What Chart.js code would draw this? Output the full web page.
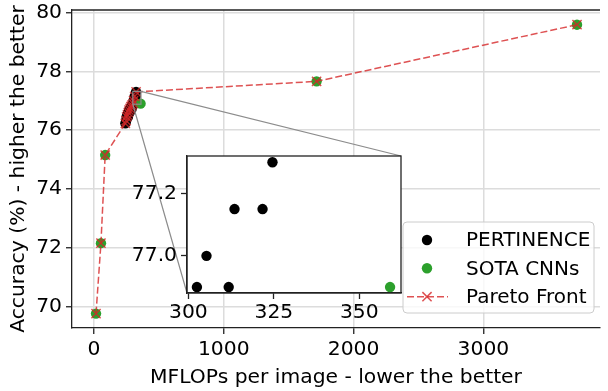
<!DOCTYPE html>
<html><head><meta charset="utf-8">
<script src="https://cdn.jsdelivr.net/npm/chart.js@4/dist/chart.umd.min.js"></script>
<style>
html,body{margin:0;padding:0;background:#fff;overflow:hidden;}
#wrap{position:relative;width:608px;height:391px;}
#main{position:absolute;left:0;top:0;}
#inset{position:absolute;left:120px;top:150px;}
</style></head><body>
<div id="wrap"><canvas id="main" width="608" height="391"></canvas><canvas id="inset" width="290" height="180"></canvas></div>
<script>
// ---- data ----
const seriesNames = ['PERTINENCE', 'SOTA CNNs', 'Pareto Front'];
const pertinenceMflops = [242, 248, 252, 258, 262, 265, 270, 275, 278, 285, 290, 292, 302.5, 305.3, 311.8, 313.5, 321.7, 324.6];
const pertinenceAcc    = [76.23, 76.32, 76.45, 76.52, 76.45, 76.60, 76.68, 76.60, 76.74, 76.80, 76.72, 76.85, 76.90, 77.0, 76.90, 77.15, 77.15, 77.30];
const sotaMflops = [16, 54, 86.5, 359, 1715, 3721];
const sotaAcc    = [69.75, 72.15, 75.15, 76.90, 77.66, 79.59];
const paretoMflops = [16, 54, 86.5, 242, 248, 252, 258, 265, 270, 278, 285, 292, 302.5, 305.3, 313.5, 324.6, 1715, 3721];
const paretoAcc    = [69.75, 72.15, 75.15, 76.23, 76.32, 76.45, 76.52, 76.60, 76.68, 76.74, 76.80, 76.85, 76.90, 77.0, 77.15, 77.30, 77.66, 79.59];
const xTicks = [0, 1000, 2000, 3000];
const yTicks = [70, 72, 74, 76, 78, 80];
const insetXTicks = [300, 325, 350];
const insetYTicks = [77.0, 77.2];
const insetXRange = [299.6, 362.2];
const insetYRange = [76.881, 77.32];
const xTitle = 'MFLOPs per image - lower the better';
const yTitle = 'Accuracy (%) - higher the better';

// ---- style ----
const FONT = {family: '"DejaVu Sans", sans-serif', size: 20.3, lineHeight: 1.0};
const BLACK = '#000000', GREEN = '#2ca02c', RED = 'rgba(214,39,40,0.8)';
const SPINE = '#222222', GRID = '#dcdcdc', CONN = '#8c8c8c';
const INSET_POS = {left: 120, top: 150};

const pts = (xs, ys) => xs.map((x, i) => ({x: x, y: ys[i]}));
const setTicks = arr => s => { s.ticks = arr.map(v => ({value: v})); };
const fixSize = (prop, val) => s => { s[prop] = val; s.paddingTop = 0; s.paddingBottom = 0; s.paddingLeft = 0; s.paddingRight = 0; };

// ---- inset chart ----
const insetPlugin = {
  id: 'insetFrame',
  beforeDraw(chart) {
    const a = chart.chartArea, c = chart.ctx;
    c.save(); c.fillStyle = '#fff'; c.fillRect(a.left, a.top, a.right - a.left, a.bottom - a.top); c.restore();
  },
  afterDraw(chart) {
    const a = chart.chartArea, c = chart.ctx;
    c.save(); c.strokeStyle = SPINE; c.lineWidth = 1.3;
    c.strokeRect(a.left, a.top, a.right - a.left, a.bottom - a.top); c.restore();
  }
};
const insetChart = new Chart(document.getElementById('inset'), {
  type: 'scatter',
  data: {datasets: [
    {label: seriesNames[1], data: pts(sotaMflops, sotaAcc), pointRadius: 5.2, pointBackgroundColor: GREEN, pointBorderWidth: 0, order: 1},
    {label: seriesNames[0], data: pts(pertinenceMflops, pertinenceAcc), pointRadius: 5.2, pointBackgroundColor: BLACK, pointBorderWidth: 0, order: 2}
  ]},
  options: {
    responsive: false, animation: false, events: [],
    layout: {padding: {top: 6, right: 9, left: 0, bottom: 0}},
    plugins: {legend: {display: false}, tooltip: {enabled: false}},
    scales: {
      x: {type: 'linear', min: insetXRange[0], max: insetXRange[1],
          afterBuildTicks: setTicks(insetXTicks), afterFit: fixSize('height', 37),
          grid: {display: true, drawOnChartArea: false, tickLength: 6, tickColor: SPINE, tickWidth: 1.3},
          border: {color: SPINE, width: 1.3},
          ticks: {font: FONT, color: BLACK, padding: 4, maxRotation: 0, autoSkip: false, callback: v => String(v)}},
      y: {type: 'linear', min: insetYRange[0], max: insetYRange[1],
          afterBuildTicks: setTicks(insetYTicks), afterFit: fixSize('width', 67),
          grid: {display: true, drawOnChartArea: false, tickLength: 6, tickColor: SPINE, tickWidth: 1.3},
          border: {color: SPINE, width: 1.3},
          ticks: {font: FONT, color: BLACK, padding: 4, autoSkip: false, callback: v => v.toFixed(1)}}
    }
  },
  plugins: [insetPlugin]
});

// ---- main chart ----
const mainPlugin = {
  id: 'mainExtras',
  afterDatasetsDraw(chart) {
    const c = chart.ctx, xs = chart.scales.x, ys = chart.scales.y;
    const rx0 = xs.getPixelForValue(insetXRange[0]), rx1 = xs.getPixelForValue(insetXRange[1]);
    const ry0 = ys.getPixelForValue(insetYRange[1]), ry1 = ys.getPixelForValue(insetYRange[0]);
    const ia = insetChart.chartArea;
    const il = INSET_POS.left + ia.left, ir = INSET_POS.left + ia.right;
    const it = INSET_POS.top + ia.top, ib = INSET_POS.top + ia.bottom;
    c.save();
    c.strokeStyle = CONN; c.lineWidth = 1.2;
    c.strokeRect(rx0, ry0, rx1 - rx0, ry1 - ry0);
    c.beginPath();
    c.moveTo(rx1, ry0); c.lineTo(ir, it);
    c.moveTo(rx0, ry1); c.lineTo(il, ib);
    c.stroke();
    c.restore();
  },
  afterDraw(chart) {
    const c = chart.ctx, a = chart.chartArea;
    c.save();
    // top spine
    c.strokeStyle = SPINE; c.lineWidth = 1.3;
    c.beginPath(); c.moveTo(a.left, a.top); c.lineTo(a.right, a.top); c.stroke();
    // legend
    const bx = 403, by = 222, bw = 191, bh = 91, r = 4;
    c.beginPath();
    c.moveTo(bx + r, by); c.lineTo(bx + bw - r, by); c.arcTo(bx + bw, by, bx + bw, by + r, r);
    c.lineTo(bx + bw, by + bh - r); c.arcTo(bx + bw, by + bh, bx + bw - r, by + bh, r);
    c.lineTo(bx + r, by + bh); c.arcTo(bx, by + bh, bx, by + bh - r, r);
    c.lineTo(bx, by + r); c.arcTo(bx, by, bx + r, by, r); c.closePath();
    c.fillStyle = 'rgba(255,255,255,0.8)'; c.fill();
    c.strokeStyle = '#cccccc'; c.lineWidth = 1; c.stroke();
    const rows = [240, 268.3, 296.7], mx = 427, tx = 466;
    c.fillStyle = BLACK; c.beginPath(); c.arc(mx, rows[0], 5.2, 0, Math.PI * 2); c.fill();
    c.fillStyle = GREEN; c.beginPath(); c.arc(mx, rows[1], 5.2, 0, Math.PI * 2); c.fill();
    c.strokeStyle = RED; c.lineWidth = 1.5; c.setLineDash([7, 3]);
    c.beginPath(); c.moveTo(407, rows[2]); c.lineTo(448, rows[2]); c.stroke();
    c.setLineDash([]);
    const d = 4.6;
    c.beginPath(); c.moveTo(mx - d, rows[2] - d); c.lineTo(mx + d, rows[2] + d);
    c.moveTo(mx - d, rows[2] + d); c.lineTo(mx + d, rows[2] - d); c.stroke();
    c.fillStyle = BLACK; c.font = '20px "DejaVu Sans"'; c.textBaseline = 'middle'; c.textAlign = 'left';
    seriesNames.forEach((n, i) => c.fillText(n, tx, rows[i] + 1));
    c.restore();
  }
};

new Chart(document.getElementById('main'), {
  type: 'scatter',
  data: {datasets: [
    {label: seriesNames[2], data: pts(paretoMflops, paretoAcc), showLine: true,
     borderColor: RED, borderWidth: 1.5, borderDash: [7, 3], backgroundColor: 'transparent',
     pointStyle: 'crossRot', pointRadius: 6.5, pointBorderColor: RED, pointBorderWidth: 1.5, order: 0},
    {label: seriesNames[1], data: pts(sotaMflops, sotaAcc), pointRadius: 5.2, pointBackgroundColor: GREEN, pointBorderWidth: 0, order: 1},
    {label: seriesNames[0], data: pts(pertinenceMflops, pertinenceAcc), pointRadius: 5.2, pointBackgroundColor: BLACK, pointBorderWidth: 0, order: 2}
  ]},
  options: {
    responsive: false, animation: false, events: [],
    layout: {padding: {top: 10, right: 0, left: 0, bottom: 0}},
    plugins: {legend: {display: false}, tooltip: {enabled: false}},
    scales: {
      x: {type: 'linear', min: -169, max: 3898,
          afterBuildTicks: setTicks(xTicks), afterFit: fixSize('height', 63),
          grid: {color: GRID, lineWidth: 1.5, tickLength: 6, tickColor: SPINE, tickWidth: 1.3},
          border: {color: SPINE, width: 1.3},
          ticks: {font: FONT, color: BLACK, padding: 6, maxRotation: 0, autoSkip: false, callback: v => String(v)},
          title: {display: true, text: xTitle, font: FONT, color: BLACK, padding: {top: 0, bottom: 3}}},
      y: {type: 'linear', min: 69.26, max: 80.09,
          afterBuildTicks: setTicks(yTicks), afterFit: fixSize('width', 72),
          grid: {color: GRID, lineWidth: 1.5, tickLength: 6, tickColor: SPINE, tickWidth: 1.3},
          border: {color: SPINE, width: 1.3},
          ticks: {font: FONT, color: BLACK, padding: 4, autoSkip: false, callback: v => String(v)},
          title: {display: true, text: yTitle, font: FONT, color: BLACK, padding: {top: 9, bottom: 0}}}
    }
  },
  plugins: [mainPlugin]
});
</script></body></html>
